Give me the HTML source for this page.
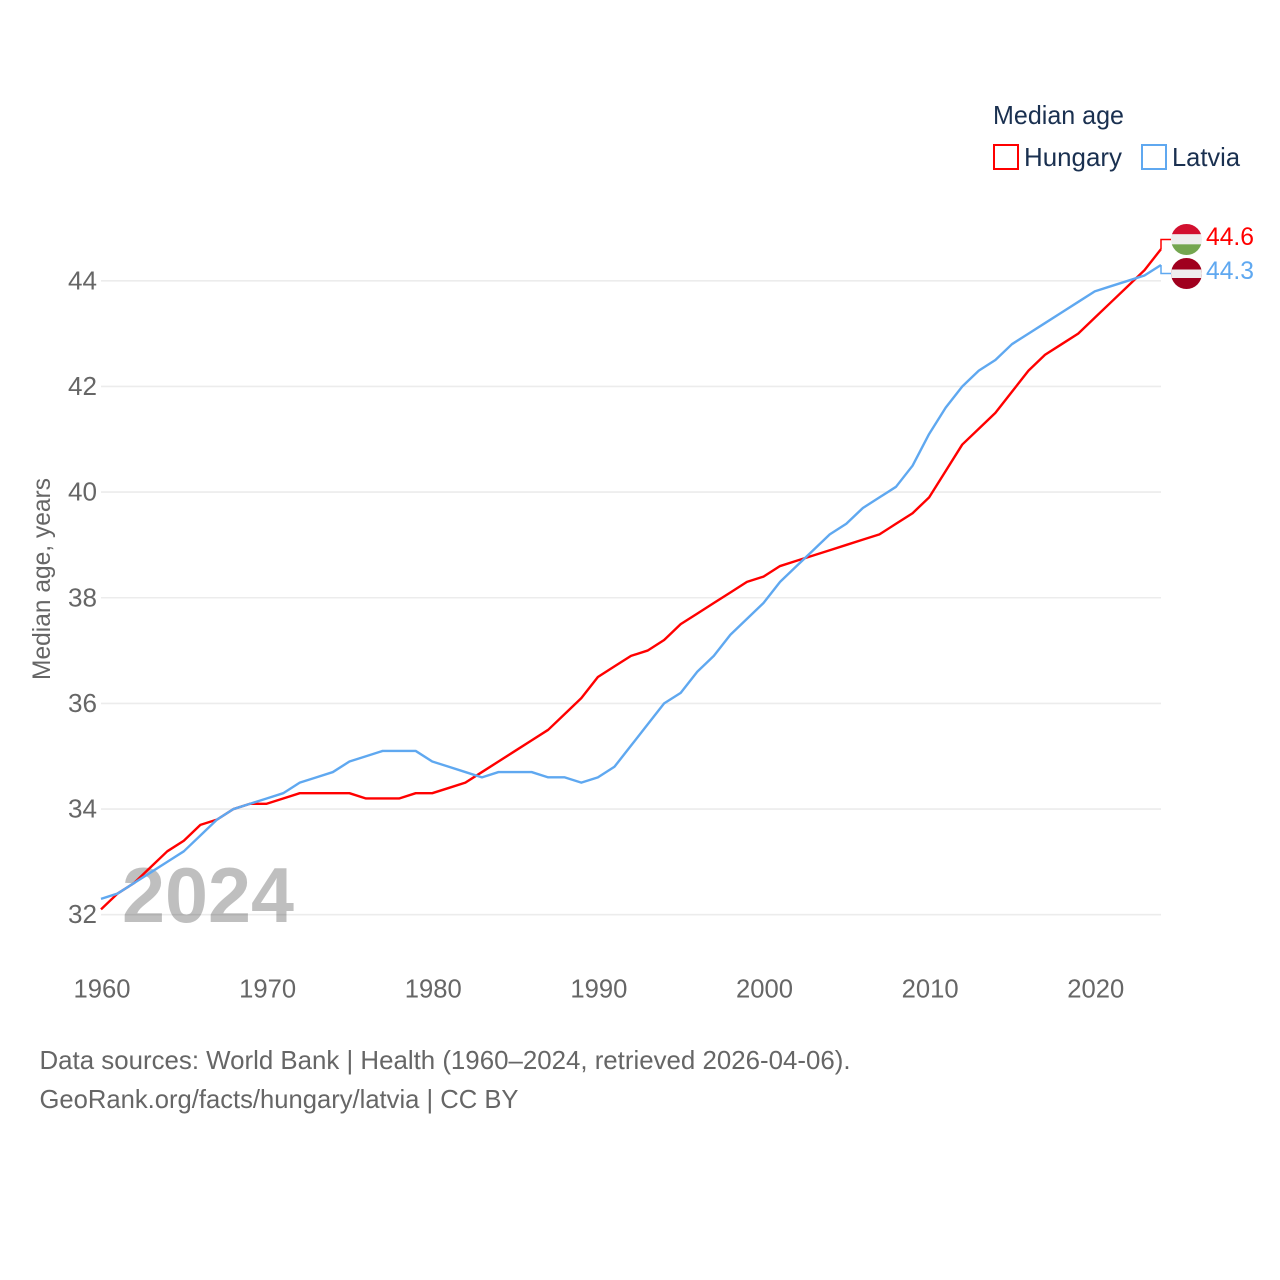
<!DOCTYPE html>
<html lang="en">
<head>
<meta charset="utf-8">
<title>Median age: Hungary and Latvia</title>
<style>
html,body{margin:0;padding:0;background:#fff}
svg{display:block}
text{font-family:"Liberation Sans",sans-serif}
</style>
</head>
<body>
<svg id="chart" width="1280" height="1280" viewBox="0 0 1280 1280" xmlns="http://www.w3.org/2000/svg">
  <defs>
    <clipPath id="clip-hu"><circle cx="1186.5" cy="239.5" r="15.5"/></clipPath>
    <clipPath id="clip-lv"><circle cx="1186.5" cy="273.5" r="15.5"/></clipPath>
  </defs>
  <g id="grid"></g>
  <g id="yticks"></g>
  <g id="xticks"></g>
  <text x="122" y="922" font-size="78" font-weight="bold" fill="#000" fill-opacity="0.25" textLength="172" lengthAdjust="spacingAndGlyphs">2024</text>
  <text transform="translate(50,680) rotate(-90)" font-size="25" fill="#666" textLength="202" lengthAdjust="spacingAndGlyphs">Median age, years</text>
  <g id="series"></g>
  <g clip-path="url(#clip-hu)">
    <rect x="1170" y="224" width="34" height="10.3" fill="#d2102f"/>
    <rect x="1170" y="234.3" width="34" height="10" fill="#eeeeee"/>
    <rect x="1170" y="244.3" width="34" height="11" fill="#74a650"/>
  </g>
  <g clip-path="url(#clip-lv)">
    <rect x="1170" y="258" width="34" height="31" fill="#a0001e"/>
    <rect x="1170" y="269.5" width="34" height="8.5" fill="#eeeeee"/>
  </g>
  <text x="1206" y="245" font-size="25" fill="#ff0000" textLength="48" lengthAdjust="spacingAndGlyphs">44.6</text>
  <text x="1206" y="279" font-size="25" fill="#5fa8f0" textLength="48" lengthAdjust="spacingAndGlyphs">44.3</text>
  <g>
    <text x="993" y="124" font-size="26" fill="#1a3050" textLength="131" lengthAdjust="spacingAndGlyphs">Median age</text>
    <rect x="994" y="145" width="24" height="24" fill="#fff" stroke="#ff0000" stroke-width="2"/>
    <text x="1024" y="166" font-size="26" fill="#1a3050" textLength="98" lengthAdjust="spacingAndGlyphs">Hungary</text>
    <rect x="1142" y="145" width="24" height="24" fill="#fff" stroke="#5fa8f0" stroke-width="2"/>
    <text x="1172" y="166" font-size="26" fill="#1a3050" textLength="68" lengthAdjust="spacingAndGlyphs">Latvia</text>
  </g>
  <text x="39.5" y="1069" font-size="26" fill="#666" textLength="811" lengthAdjust="spacingAndGlyphs">Data sources: World Bank | Health (1960–2024, retrieved 2026-04-06).</text>
  <text x="39.5" y="1108" font-size="26" fill="#666" textLength="479" lengthAdjust="spacingAndGlyphs">GeoRank.org/facts/hungary/latvia | CC BY</text>
</svg>
<script>
const startYear = 1960;
const yTickValues = [32, 34, 36, 38, 40, 42, 44];
const xTickValues = [1960, 1970, 1980, 1990, 2000, 2010, 2020];
const hungaryValues = [32.1,32.4,32.6,32.9,33.2,33.4,33.7,33.8,34.0,34.1,34.1,34.2,34.3,34.3,34.3,34.3,34.2,34.2,34.2,34.3,34.3,34.4,34.5,34.7,34.9,35.1,35.3,35.5,35.8,36.1,36.5,36.7,36.9,37.0,37.2,37.5,37.7,37.9,38.1,38.3,38.4,38.6,38.7,38.8,38.9,39.0,39.1,39.2,39.4,39.6,39.9,40.4,40.9,41.2,41.5,41.9,42.3,42.6,42.8,43.0,43.3,43.6,43.9,44.2,44.6];
const latviaValues = [32.3,32.4,32.6,32.8,33.0,33.2,33.5,33.8,34.0,34.1,34.2,34.3,34.5,34.6,34.7,34.9,35.0,35.1,35.1,35.1,34.9,34.8,34.7,34.6,34.7,34.7,34.7,34.6,34.6,34.5,34.6,34.8,35.2,35.6,36.0,36.2,36.6,36.9,37.3,37.6,37.9,38.3,38.6,38.9,39.2,39.4,39.7,39.9,40.1,40.5,41.1,41.6,42.0,42.3,42.5,42.8,43.0,43.2,43.4,43.6,43.8,43.9,44.0,44.1,44.3];

const NS = 'http://www.w3.org/2000/svg';
function xScale(year) { return 101 + (year - 1960) * (1161 - 101) / 64; }
function yScale(v) { return 914.7 - (v - 32) * (914.7 - 280.8) / 12; }
function make(tag, attrs, parent) {
  const el = document.createElementNS(NS, tag);
  for (const k in attrs) el.setAttribute(k, attrs[k]);
  parent.appendChild(el);
  return el;
}

const grid = document.getElementById('grid');
const yticks = document.getElementById('yticks');
yTickValues.forEach(function (v) {
  const line = make('line', {x1: 101, x2: 1161, y1: yScale(v), y2: yScale(v), stroke: '#ececec', 'stroke-width': 1.6}, grid);
  
  
  const t = make('text', {x: 68, y: yScale(v) + 8.5, 'font-size': 26, fill: '#666', textLength: 29, lengthAdjust: 'spacingAndGlyphs'}, yticks);
  t.textContent = String(v);
  
  
});

const xticks = document.getElementById('xticks');
xTickValues.forEach(function (y) {
  const t = make('text', {x: xScale(y) - 27.5, y: 997.5, 'font-size': 26, fill: '#666', textLength: 57, lengthAdjust: 'spacingAndGlyphs'}, xticks);
  t.textContent = String(y);
  
  
});

function linePath(values) {
  const pts = values.map(function (v, i) { return xScale(startYear + i).toFixed(2) + ',' + yScale(v).toFixed(2); });
  return pts.join(' ');
}

const series = document.getElementById('series');

const huLine = make('polyline', {points: linePath(hungaryValues), fill: 'none', stroke: '#ff0000', 'stroke-width': 2.4, 'stroke-linejoin': 'round'}, series);



const lvLine = make('polyline', {points: linePath(latviaValues), fill: 'none', stroke: '#5fa8f0', 'stroke-width': 2.4, 'stroke-linejoin': 'round'}, series);



const huEndY = yScale(hungaryValues[hungaryValues.length - 1]);
const huConn = make('polyline', {points: '1161,' + huEndY + ' 1161,239.5 1171,239.5', fill: 'none', stroke: '#ff0000', 'stroke-width': 1.5}, series);



const lvEndY = yScale(latviaValues[latviaValues.length - 1]);
const lvConn = make('polyline', {points: '1161,' + lvEndY + ' 1161,273.5 1171,273.5', fill: 'none', stroke: '#5fa8f0', 'stroke-width': 1.5}, series);


</script>
</body>
</html>
